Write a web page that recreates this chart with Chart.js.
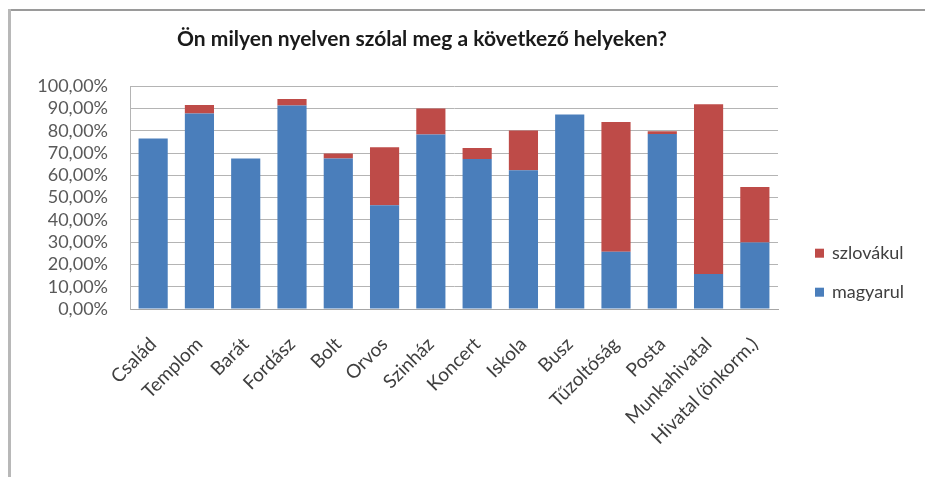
<!DOCTYPE html>
<html>
<head>
<meta charset="utf-8">
<title>Nyelvhasználat</title>
<script src="https://cdn.jsdelivr.net/npm/chart.js@4"></script>
<style>
    html, body { margin: 0; padding: 0; background: #fff; }
    #wrap { position: relative; width: 925px; height: 477px; overflow: hidden; }
    #chart { position: absolute; left: 0; top: 0; }
    .edge-top { position: absolute; left: 8px; top: 9px; width: 917px; height: 2px; background: #9a9a9a; }
    .edge-left { position: absolute; left: 8px; top: 9px; width: 3px; height: 468px; background: #b8b8b8; }
</style>
</head>
<body>
<div id="wrap">
    <canvas id="chart" width="925" height="477"></canvas>
    <div class="edge-top"></div>
    <div class="edge-left"></div>
</div>
<script>
    var helyek = ['Család', 'Templom', 'Barát', 'Fordász', 'Bolt', 'Orvos', 'Szinház', 'Koncert',
        'Iskola', 'Busz', 'Tűzoltóság', 'Posta', 'Munkahivatal', 'Hivatal (önkorm.)'];
    var magyarul = [76.5, 87.7, 67.6, 91.3, 67.6, 46.6, 78.3, 67.3, 62.3, 87.3, 25.7, 78.5, 15.7, 29.9];
    var szlovakul = [0, 3.9, 0, 3.0, 2.2, 26.0, 11.7, 5.0, 17.8, 0, 58.2, 1.3, 76.2, 24.9];
    var yTicks = [0, 10, 20, 30, 40, 50, 60, 70, 80, 90, 100];

    var betu = 'Lato, "Open Sans", sans-serif';

    // a cím a teljes rajzlap közepére kerüljön, ne csak a bal oldali részére
    var cimEltolas = {
        id: 'cimEltolas',
        afterLayout: function (chart) {
            var t = chart.titleBlock;
            if (t) {
                t.left += 27;
                t.right += 27;
            }
        }
    };

    // jelmagyarázat a diagram jobb oldalán, fordított sorrendben (szlovákul felül)
    var jelmagyarazat = {
        id: 'jelmagyarazat',
        afterDraw: function (chart) {
            var ctx = chart.ctx;
            var area = chart.chartArea;
            var sets = chart.data.datasets.slice().reverse();
            ctx.save();
            ctx.font = '18px ' + betu;
            ctx.textBaseline = 'middle';
            ctx.textAlign = 'left';
            sets.forEach(function (ds, i) {
                var y = area.top + 167 + i * 39;
                var x = area.right + 37;
                ctx.fillStyle = ds.backgroundColor;
                ctx.fillRect(x, y - 4.5, 9, 9);
                ctx.fillStyle = '#404040';
                ctx.fillText(ds.label, x + 17, y);
            });
            ctx.restore();
        }
    };

    var ctx = document.getElementById('chart').getContext('2d');
    var chart = new Chart(ctx, {
        type: 'bar',
        data: {
            labels: helyek,
            datasets: [{
                label: 'magyarul',
                data: magyarul,
                backgroundColor: '#4a7ebb',
                barPercentage: 0.63,
                categoryPercentage: 1
            }, {
                label: 'szlovákul',
                data: szlovakul,
                backgroundColor: '#be4b48',
                barPercentage: 0.63,
                categoryPercentage: 1
            }]
        },
        options: {
            responsive: false,
            animation: false,
            layout: {
                padding: { left: 12, right: 147, top: 0, bottom: 0 }
            },
            plugins: {
                legend: { display: false },
                tooltip: { enabled: false },
                title: {
                    display: true,
                    text: 'Ön milyen nyelven szólal meg a következő helyeken?',
                    color: '#1a1a1a',
                    font: { family: betu, size: 21, weight: 'bold' },
                    padding: { top: 27, bottom: 34 }
                }
            },
            scales: {
                x: {
                    stacked: true,
                    grid: { display: false, drawTicks: false },
                    border: { color: '#a6a6a6' },
                    ticks: {
                        color: '#404040',
                        font: { family: betu, size: 19 },
                        minRotation: 45,
                        maxRotation: 45,
                        autoSkip: false,
                        padding: 24
                    },
                    afterFit: function (scale) {
                        scale.height = 168;
                    }
                },
                y: {
                    stacked: true,
                    min: 0,
                    max: 100,
                    grid: { color: '#b4b4b4', lineWidth: 1, drawTicks: false },
                    border: { color: '#b4b4b4' },
                    afterBuildTicks: function (scale) {
                        scale.ticks = yTicks.map(function (v) { return { value: v }; });
                    },
                    ticks: {
                        color: '#595959',
                        font: { family: betu, size: 18, lineHeight: 1 },
                        autoSkip: false,
                        padding: 22,
                        callback: function (v) {
                            return v.toFixed(2).replace('.', ',') + '%';
                        }
                    },
                    afterFit: function (scale) {
                        scale.width = 118;
                    }
                }
            }
        },
        plugins: [cimEltolas, jelmagyarazat]
    });
</script>
</body>
</html>
